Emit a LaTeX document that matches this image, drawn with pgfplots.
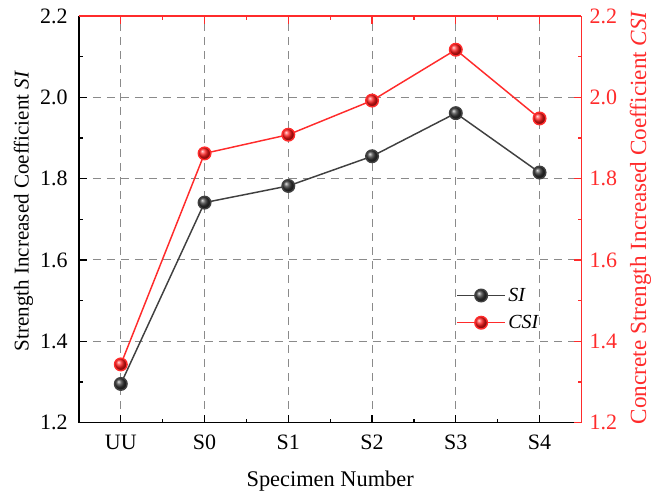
\documentclass[border=0pt]{standalone}
\usepackage{pgfplots}
\pgfplotsset{compat=1.18}
\usepackage{fontspec}
\setmainfont{Liberation Serif}

\definecolor{siline}{HTML}{404040}
\definecolor{csiline}{HTML}{FF2B2B}
\definecolor{gridgray}{HTML}{8A8A8A}

\pgfplotsset{
  common/.style={
    width=377.25pt, height=305.25pt, scale only axis,
    at={(0pt,0pt)}, anchor=south west,
    xmin=-0.5, xmax=5.5, ymin=1.2, ymax=2.2,
    xtick={0,1,2,3,4,5},
    minor x tick num=1,
    ytick={1.2,1.4,1.6,1.8,2.0,2.2},
    minor y tick num=1,
    tick align=inside,
    major tick length=5.8pt, minor tick length=2.8pt,
    axis line style={line width=1.3pt},
    every tick/.style={line width=1pt},
    /pgf/number format/assume math mode=true,
    /pgf/number format/.cd, fixed, fixed zerofill, precision=1,
    /pgfplots/.cd,
    tick label style={font=\fontsize{16.5}{19}\selectfont},
  },
  redaxis/.style={
    axis line style={csiline, line width=1.3pt},
    every tick/.style={csiline, line width=1pt},
  },
  legimg/.style={
    legend image code/.code={
      \draw[mark repeat=2,mark phase=2,##1]
        plot coordinates {(0cm,0cm) (0.63cm,0cm) (1.26cm,0cm)};}
  },
}

\begin{document}
\begin{tikzpicture}
% page area: plot box plus room for the labels
\useasboundingbox (-59.25pt,-54.75pt) rectangle (440.75pt,317.25pt);
% left and bottom axes: SI
\begin{axis}[common,
  axis x line*=bottom, axis y line*=left,
  xticklabels={UU,S0,S1,S2,S3,S4},
  xticklabel style={yshift=-6pt},
  yticklabel style={xshift=-4.9pt},
  xlabel={Specimen Number},
  xlabel style={font=\fontsize{16.8}{19}\selectfont,
    at={(axis description cs:0.5,0)}, anchor=base, yshift=-47.8pt},
  ylabel={Strength Increased Coefficient \textit{SI}},
  ylabel style={font=\fontsize{15.8}{19}\selectfont,
    at={(axis description cs:0,0.52)}, anchor=center, yshift=41.6pt},
  grid=major,
  grid style={gridgray, line width=0.8pt, dash pattern=on 6pt off 4.5pt},
]
\addplot[siline, line width=1.1pt, mark=ball, mark size=4.7pt,
  mark options={ball color=siline!85!black}]
  coordinates {(0,1.295) (1,1.741) (2,1.782) (3,1.855) (4,1.961) (5,1.815)};
\end{axis}
% top frame line with its ticks
\begin{axis}[common, redaxis,
  axis x line*=top, axis y line=none,
  xticklabels={},
]
\end{axis}
% right axis: CSI
\begin{axis}[common, redaxis,
  axis x line=none, axis y line*=right,
  yticklabel style={text=csiline, xshift=2.7pt},
  ylabel={Concrete Strength Increased Coefficient \textit{CSI}},
  ylabel style={text=csiline, font=\fontsize{17.4}{20}\selectfont,
    at={(axis description cs:1,0.505)}, anchor=center, yshift=-44.25pt},
  legimg,
  legend style={draw=none, fill=none, at={(0.743,0.345)}, anchor=north west,
    font=\fontsize{15}{18}\selectfont\itshape, row sep=5pt,
    /tikz/every even column/.append style={column sep=2pt}},
  legend cell align=left,
]
\addlegendimage{siline, line width=1.1pt, mark=ball, mark size=4.7pt,
  mark options={ball color=siline!85!black}}
\addplot[csiline, line width=1.1pt, mark=ball, mark size=4.7pt,
  mark options={ball color=red!90!white}]
  coordinates {(0,1.343) (1,1.862) (2,1.908) (3,1.992) (4,2.117) (5,1.948)};
\legend{SI, CSI}
\end{axis}
\end{tikzpicture}
\end{document}
